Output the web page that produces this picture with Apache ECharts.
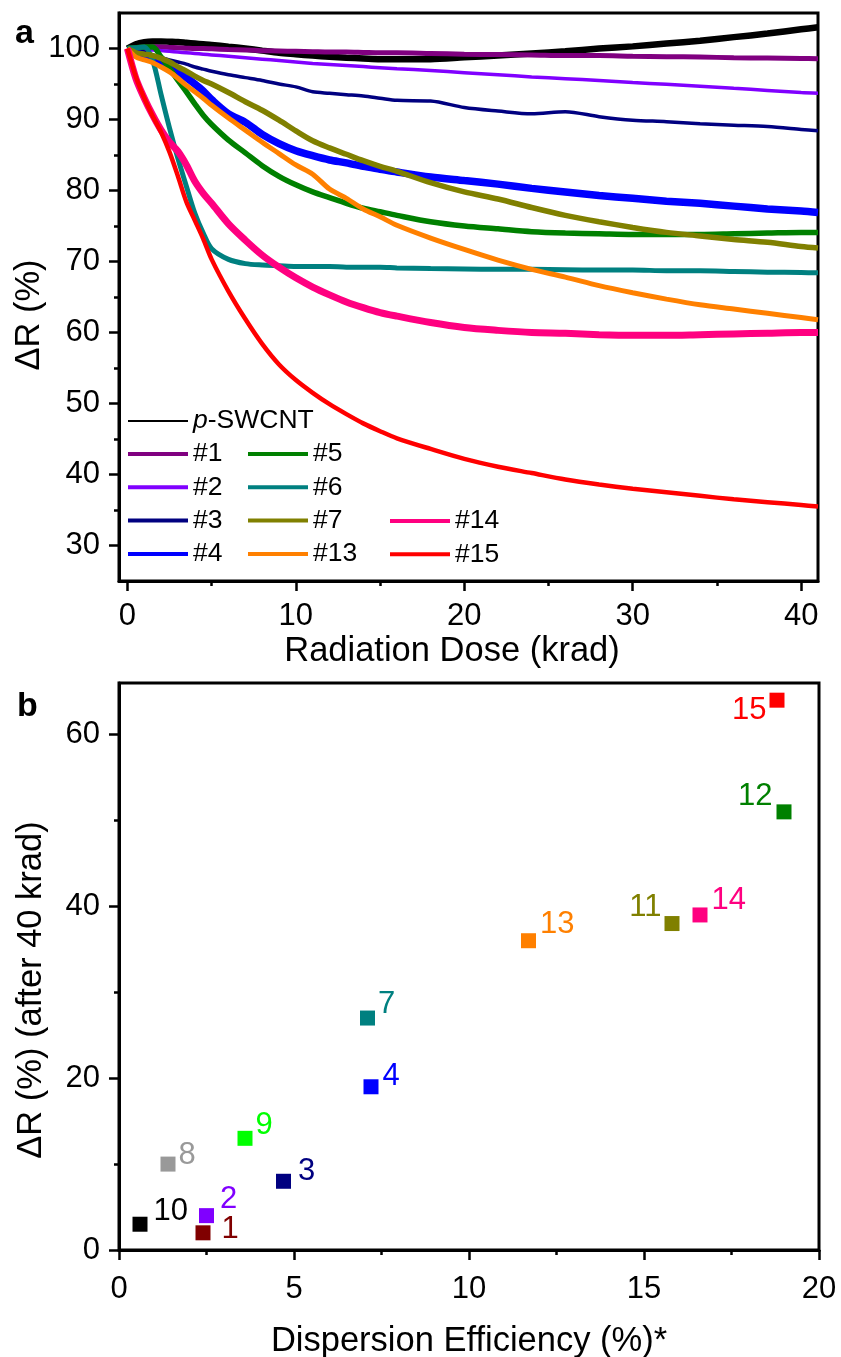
<!DOCTYPE html>
<html><head><meta charset="utf-8">
<script src="https://cdn.jsdelivr.net/npm/echarts@6/dist/echarts.min.js"></script>
<style>html,body{margin:0;padding:0;background:#fff}#c{width:841px;height:1357px}</style>
</head><body><div id="c"></div><script>
// ---------- Panel a data ----------
const dose = [0, 0.5, 1, 1.5, 2, 2.5, 3, 3.5, 4, 4.5, 5, 6, 7, 8, 9, 10, 11, 12, 13, 14, 15, 16, 18, 20, 22, 24, 26, 28, 30, 32, 34, 36, 38, 40, 41];
const pSWCNT = [100, 100.6, 100.9, 101.0, 101.0, 100.95, 100.9, 100.8, 100.7, 100.6, 100.5, 100.25, 100.0, 99.7, 99.4, 99.2, 99.0, 98.85, 98.7, 98.6, 98.5, 98.5, 98.5, 98.75, 99.0, 99.3, 99.6, 100.0, 100.3, 100.7, 101.1, 101.6, 102.1, 102.7, 103.0];
const s1 = [100, 100.1, 100.2, 100.2, 100.2, 100.15, 100.1, 100.05, 100.0, 100.0, 99.95, 99.85, 99.8, 99.7, 99.65, 99.6, 99.55, 99.5, 99.5, 99.45, 99.4, 99.4, 99.3, 99.2, 99.15, 99.1, 99.0, 99.0, 98.9, 98.85, 98.8, 98.7, 98.65, 98.6, 98.55];
const s2 = [100, 99.95, 99.9, 99.8, 99.7, 99.6, 99.5, 99.4, 99.3, 99.2, 99.1, 98.9, 98.7, 98.5, 98.3, 98.1, 97.9, 97.75, 97.6, 97.45, 97.3, 97.15, 96.9, 96.6, 96.3, 96.0, 95.75, 95.5, 95.2, 94.95, 94.7, 94.4, 94.1, 93.8, 93.7];
const s3 = [100, 99.8, 99.5, 99.1, 98.7, 98.4, 98.1, 97.8, 97.4, 97.1, 96.8, 96.3, 95.9, 95.5, 95.0, 94.6, 93.9, 93.7, 93.5, 93.3, 93.0, 92.7, 92.6, 91.7, 91.2, 90.8, 91.1, 90.4, 89.9, 89.7, 89.4, 89.2, 89.0, 88.6, 88.4];
const s4 = [100, 99.4, 99.0, 98.6, 98.2, 97.6, 96.7, 95.9, 95.0, 94.0, 92.8, 90.8, 89.6, 87.9, 86.6, 85.6, 84.9, 84.3, 83.9, 83.4, 83.0, 82.6, 81.9, 81.4, 80.9, 80.3, 79.8, 79.3, 78.9, 78.5, 78.2, 77.8, 77.4, 77.1, 76.9];
const s5 = [100, 100.1, 100.2, 100.2, 98.8, 97.2, 95.5, 93.9, 92.2, 90.6, 89.3, 87.1, 85.3, 83.5, 82.0, 80.8, 79.8, 79.0, 78.2, 77.5, 77.0, 76.5, 75.6, 75.0, 74.6, 74.2, 74.0, 73.9, 73.8, 73.8, 73.8, 73.9, 74.0, 74.1, 74.1];
const s6 = [100, 100.1, 100.2, 98.3, 93.5, 88.8, 84.5, 80.6, 76.8, 74.0, 71.8, 70.3, 69.7, 69.5, 69.4, 69.3, 69.3, 69.3, 69.2, 69.2, 69.2, 69.1, 69.0, 68.95, 68.9, 68.9, 68.85, 68.8, 68.8, 68.7, 68.7, 68.6, 68.5, 68.45, 68.4];
const s7 = [100, 99.4, 99.2, 99.0, 98.6, 98.1, 97.4, 96.8, 96.1, 95.5, 95.0, 93.8, 92.5, 91.3, 89.9, 88.4, 87.0, 86.0, 85.1, 84.2, 83.4, 82.7, 81.1, 79.8, 78.8, 77.6, 76.5, 75.6, 74.8, 74.1, 73.6, 73.1, 72.7, 72.1, 71.9];
const s13 = [100, 98.8, 98.4, 98.0, 97.4, 96.7, 95.8, 94.8, 93.9, 93.0, 92.0, 90.2, 88.5, 86.8, 85.2, 83.6, 82.3, 80.2, 78.9, 77.4, 76.3, 75.1, 73.3, 71.7, 70.2, 68.9, 67.8, 66.6, 65.6, 64.7, 63.9, 63.3, 62.7, 62.1, 61.8];
const s14 = [100, 95.8, 93.0, 90.6, 88.5, 86.8, 85.5, 83.6, 81.3, 79.6, 78.2, 75.3, 73.0, 70.9, 69.2, 67.7, 66.4, 65.3, 64.3, 63.5, 62.8, 62.3, 61.4, 60.7, 60.3, 60.0, 59.9, 59.7, 59.6, 59.6, 59.7, 59.8, 59.9, 60.0, 60.0];
const s15 = [100, 96.0, 93.0, 90.5, 88.2, 85.4, 82.0, 78.4, 75.8, 73.2, 70.3, 65.8, 61.9, 58.4, 55.5, 53.3, 51.5, 49.9, 48.5, 47.2, 46.1, 45.1, 43.6, 42.2, 41.1, 40.2, 39.3, 38.6, 38.0, 37.5, 37.0, 36.5, 36.1, 35.7, 35.5];
const doseTicks = [0, 10, 20, 30, 40];
const doseMinorTicks = [5, 15, 25, 35];
const rTicks = [30, 40, 50, 60, 70, 80, 90, 100];
const rMinorTicks = [35, 45, 55, 65, 75, 85, 95];

// ---------- Panel b data ----------
const sampleIds = ['1', '2', '3', '4', '7', '8', '9', '10', '11', '12', '13', '14', '15'];
const dispEff = [2.4, 2.5, 4.7, 7.2, 7.1, 1.4, 3.6, 0.6, 15.8, 19.0, 11.7, 16.6, 18.8];
const deltaR40 = [2, 4, 8, 19, 27, 10, 13, 3, 38, 51, 36, 39, 64];
const effTicks = [0, 5, 10, 15, 20];
const effMinorTicks = [2.5, 7.5, 12.5, 17.5];
const dRTicks = [0, 20, 40, 60];
const dRMinorTicks = [10, 30, 50];

// ---------- styles ----------
const FONT = '"Liberation Sans", Arial, Helvetica, sans-serif';
const lineDefs = [
  {name: 'p-SWCNT', vals: pSWCNT, color: '#000000', w: 6.5},
  {name: '#1', vals: s1, color: '#800080', w: 5},
  {name: '#2', vals: s2, color: '#8000ff', w: 3.5},
  {name: '#3', vals: s3, color: '#000080', w: 3.5},
  {name: '#4', vals: s4, color: '#0000ff', w: 7.5},
  {name: '#5', vals: s5, color: '#008000', w: 5.5},
  {name: '#6', vals: s6, color: '#008080', w: 5},
  {name: '#7', vals: s7, color: '#808000', w: 5.5},
  {name: '#13', vals: s13, color: '#ff8000', w: 5},
  {name: '#14', vals: s14, color: '#ff0080', w: 7},
  {name: '#15', vals: s15, color: '#ff0000', w: 4.5}
];
const pointColors = {'1': '#800000', '2': '#8000ff', '3': '#000080', '4': '#0000ff', '7': '#008080', '8': '#999999',
  '9': '#00ff00', '10': '#000000', '11': '#808000', '12': '#008000', '13': '#ff8000', '14': '#ff0080', '15': '#ff0000'};
const labelStyle = {
  '1': {position: 'right', offset: [8, -3]}, '2': {position: 'right', offset: [3, -16]},
  '3': {position: 'right', offset: [4, -10]}, '4': {position: 'right', offset: [1, -10]},
  '7': {position: 'right', offset: [0, -14]}, '8': {position: 'right', offset: [0, -9]},
  '9': {position: 'right', offset: [0, -13]}, '10': {position: 'right', offset: [3, -13]},
  '11': {position: 'left', offset: [0, -16]}, '12': {position: 'left', offset: [-1, -15]},
  '13': {position: 'right', offset: [1, -16]}, '14': {position: 'right', offset: [1, -15]},
  '15': {position: 'left', offset: [0, 10]}
};

const tickFont = {fontSize: 31, color: '#000', fontFamily: FONT};
const nameFont = {fontSize: 34.5, color: '#000', fontFamily: FONT};
const axLine = {show: true, onZero: false, lineStyle: {color: '#000', width: 3}};

function majorAxis(extra, ticks, margin) {
  return Object.assign({
    type: 'value', axisLine: axLine, splitLine: {show: false},
    axisTick: {show: true, inside: false, length: 10, lineStyle: {color: '#000', width: 2.5}, customValues: ticks},
    axisLabel: Object.assign({show: true, margin: margin, customValues: ticks}, tickFont)
  }, extra);
}
function minorAxis(extra, ticks) {
  return Object.assign({
    type: 'value', axisLine: {show: false, onZero: false}, splitLine: {show: false},
    axisTick: {show: true, inside: false, length: 5, lineStyle: {color: '#000', width: 2.5}, customValues: ticks},
    axisLabel: {show: false}
  }, extra);
}

const series = lineDefs.map(d => ({
  name: d.name, type: 'line', xAxisIndex: 0, yAxisIndex: 0,
  data: dose.map((x, i) => [x, d.vals[i]]),
  smooth: 0.3, symbol: 'none', showSymbol: false,
  lineStyle: {color: d.color, width: d.w}, itemStyle: {color: d.color},
  emphasis: {disabled: true}, animation: false
}));

series.push({
  name: 'dispersion', type: 'scatter', xAxisIndex: 2, yAxisIndex: 2,
  symbol: 'rect', symbolSize: 15, animation: false,
  data: sampleIds.map((id, i) => ({
    value: [dispEff[i], deltaR40[i]],
    itemStyle: {color: pointColors[id], opacity: 1},
    label: {show: true, formatter: id, position: labelStyle[id].position, offset: labelStyle[id].offset,
      distance: 3, color: pointColors[id], fontSize: 31, fontFamily: FONT}
  }))
});

const legText = {fontSize: 26.5, color: '#000', fontFamily: FONT, lineHeight: 33.3,
  rich: {i: {fontStyle: 'italic', fontSize: 26.5, fontFamily: FONT, lineHeight: 33.3, color: '#000'}}};
function legend(names, left, firstRowCenter, h) {
  return {data: names, left: left, top: firstRowCenter - 16.65, orient: 'vertical', icon: 'rect',
    itemWidth: 60, itemHeight: h, itemGap: 0, padding: 0, selectedMode: false, textStyle: legText,
    formatter: n => (n === 'p-SWCNT' ? '{i|p}-SWCNT' : n)};
}

function yTitle(text, cx, cy) {
  return {type: 'text', x: cx, y: cy, rotation: Math.PI / 2,
    style: {text: text, font: '34.5px ' + FONT, fill: '#000', align: 'center', verticalAlign: 'middle'}};
}

const chart = echarts.init(document.getElementById('c'), null, {renderer: 'canvas'});
chart.setOption({
  backgroundColor: '#fff',
  animation: false,
  textStyle: {fontFamily: FONT},
  grid: [
    {left: 119, top: 13, width: 699, height: 568, show: true, borderColor: '#000', borderWidth: 3,
      backgroundColor: 'transparent', containLabel: false, outerBoundsMode: 'none'},
    {left: 119, top: 683, width: 700, height: 567, show: true, borderColor: '#000', borderWidth: 3,
      backgroundColor: 'transparent', containLabel: false, outerBoundsMode: 'none'}
  ],
  xAxis: [
    majorAxis({gridIndex: 0, min: -0.5, max: 41, position: 'bottom', name: 'Radiation Dose (krad)',
      nameLocation: 'middle', nameGap: 53, nameTextStyle: Object.assign({padding: [0, 33, 0, 0]}, nameFont)}, doseTicks, 20),
    minorAxis({gridIndex: 0, min: -0.5, max: 41, position: 'bottom'}, doseMinorTicks),
    majorAxis({gridIndex: 1, min: 0, max: 20, position: 'bottom', name: 'Dispersion Efficiency (%)*',
      nameLocation: 'middle', nameGap: 74, nameTextStyle: nameFont}, effTicks, 24),
    minorAxis({gridIndex: 1, min: 0, max: 20, position: 'bottom'}, effMinorTicks)
  ],
  yAxis: [
    majorAxis({gridIndex: 0, min: 25, max: 105, position: 'left'}, rTicks, 19),
    minorAxis({gridIndex: 0, min: 25, max: 105, position: 'left'}, rMinorTicks),
    majorAxis({gridIndex: 1, min: 0, max: 66, position: 'left'}, dRTicks, 19),
    minorAxis({gridIndex: 1, min: 0, max: 66, position: 'left'}, dRMinorTicks)
  ],
  legend: [
    legend(['p-SWCNT'], 128, 421, 2),
    legend(['#1', '#2', '#3', '#4'], 128, 454, 4),
    legend(['#5', '#6', '#7', '#13'], 248, 454, 4),
    legend(['#14', '#15'], 390, 521, 4)
  ],
  graphic: [
    {type: 'text', x: 15, y: 34, style: {text: 'a', font: 'bold 34px ' + FONT, fill: '#000', verticalAlign: 'middle'}},
    {type: 'text', x: 17, y: 707, style: {text: 'b', font: 'bold 34px ' + FONT, fill: '#000', verticalAlign: 'middle'}},
    yTitle('ΔR (%)', 29.5, 315),
    yTitle('ΔR (%) (after 40 krad)', 31, 990)
  ],
  series: series
});
</script></body></html>
